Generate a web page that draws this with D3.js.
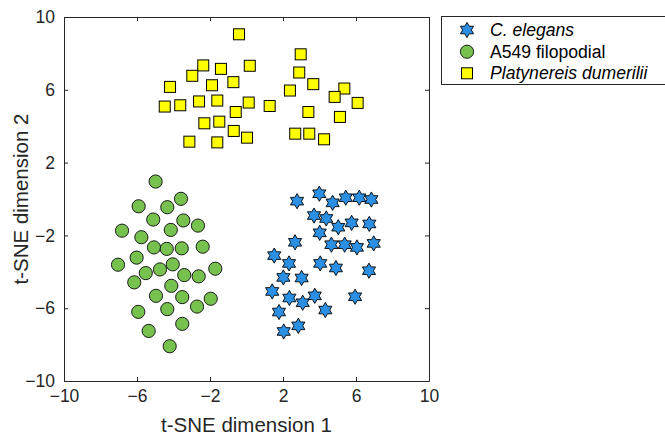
<!DOCTYPE html>
<html>
<head>
<meta charset="utf-8">
<script src="https://cdn.jsdelivr.net/npm/d3@7"></script>
<style>
  html, body { margin: 0; padding: 0; background: #fff; }
  svg { display: block; font-family: "Liberation Sans", Arial, sans-serif; }
</style>
</head>
<body>
<svg id="chart" width="665" height="435"></svg>
<script>
// ---- data ----
const seriesNames = ["C. elegans", "A549 filopodial", "Platynereis dumerilii"];
const xTicks = [-10, -6, -2, 2, 6, 10];
const yTicks = [-10, -6, -2, 2, 6, 10];

const elegansX = [2.77, 3.99, 4.72, 5.44, 6.18, 6.84, 3.70, 4.37, 5.03, 5.76, 6.73, 4.01, 2.66, 4.65, 5.38, 6.05, 6.97,
  1.52, 2.33, 4.04, 4.90, 6.71, 2.02, 3.02, 1.41, 2.35, 3.08, 3.74, 5.95, 1.78, 4.32, 2.84, 2.04];
const elegansY = [-0.12, 0.29, -0.21, 0.07, 0.07, -0.03, -0.91, -1.07, -1.55, -1.31, -1.37, -1.86, -2.38, -2.51, -2.51, -2.66, -2.44,
  -3.11, -3.54, -3.54, -3.79, -3.94, -4.31, -4.34, -5.08, -5.44, -5.70, -5.32, -5.37, -6.21, -6.10, -6.97, -7.28];

const a549X = [-4.98, -3.59, -5.91, -4.34, -5.11, -3.46, -2.66, -6.82, -4.15, -5.76, -5.07, -4.37, -3.55, -2.40, -6.02, -7.04, -4.04,
  -4.74, -5.52, -3.41, -2.62, -1.71, -6.15, -4.12, -4.96, -3.52, -1.96, -2.71, -4.34, -5.93, -3.52, -5.36, -4.21];
const a549Y = [0.96, 0.01, -0.40, -0.45, -1.13, -1.18, -1.46, -1.74, -1.70, -2.10, -2.66, -2.74, -2.71, -2.62, -3.22, -3.61, -3.59,
  -3.87, -4.07, -4.18, -4.25, -3.83, -4.58, -4.77, -5.32, -5.39, -5.48, -5.91, -6.05, -6.20, -6.86, -7.25, -8.09];

const platyX = [-0.41, 2.97, -2.37, -1.40, 0.18, -2.97, 2.89, -4.19, -1.89, -0.72, 3.66, 2.38, 5.36, 4.83, -4.48, -3.63, -2.60,
  -1.60, 0.12, 1.27, 6.09, -0.59, 3.39, 5.12, -2.31, -1.49, -0.70, 0.03, 2.67, 3.44, 4.25, -3.13, -1.60];
const platyY = [9.05, 7.95, 7.34, 7.15, 7.32, 6.77, 6.95, 6.16, 6.25, 6.42, 6.31, 5.96, 6.07, 5.61, 5.08, 5.15, 5.36,
  5.41, 5.30, 5.11, 5.28, 4.78, 4.78, 4.51, 4.16, 4.25, 3.74, 3.37, 3.59, 3.59, 3.28, 3.15, 3.11];

// ---- layout ----
const svg = d3.select("#chart");
const L = 64, T = 17, R = 429, B = 381;
const x = d3.scaleLinear().domain([-10, 10]).range([L, R]);
const y = d3.scaleLinear().domain([-10, 10]).range([B, T]);
const axisColor = "#262626";

// hexagram path
function hexagram(r) {
  const ri = r / Math.sqrt(3);
  const pts = [];
  for (let i = 0; i < 12; i++) {
    const a = -Math.PI / 2 + i * Math.PI / 6;
    const rr = i % 2 === 0 ? r : ri;
    pts.push([rr * Math.cos(a), rr * Math.sin(a)]);
  }
  return "M" + pts.map(p => p[0].toFixed(2) + "," + p[1].toFixed(2)).join("L") + "Z";
}
const starPath = hexagram(7.6);

// points
const plot = svg.append("g");

plot.selectAll("rect.platy").data(d3.range(platyX.length)).join("rect")
  .attr("class", "platy")
  .attr("x", i => x(platyX[i]) - 5.5).attr("y", i => y(platyY[i]) - 5.5)
  .attr("width", 11).attr("height", 11)
  .attr("fill", "#ffff00").attr("stroke", "#000").attr("stroke-width", 1);

plot.selectAll("circle.a549").data(d3.range(a549X.length)).join("circle")
  .attr("class", "a549")
  .attr("cx", i => x(a549X[i])).attr("cy", i => y(a549Y[i]))
  .attr("r", 6.6)
  .attr("fill", "#77c24f").attr("stroke", "#1a1a1a").attr("stroke-width", 1);

plot.selectAll("path.elegans").data(d3.range(elegansX.length)).join("path")
  .attr("class", "elegans")
  .attr("transform", i => `translate(${x(elegansX[i])},${y(elegansY[i])})`)
  .attr("d", starPath)
  .attr("fill", "#2b8fe3").attr("stroke", "#000").attr("stroke-width", 0.9);

// axes
const fontSize = 17.5;
const xAxisB = d3.axisBottom(x).tickValues(xTicks).tickSizeInner(-4).tickSizeOuter(0).tickPadding(9).tickFormat(d3.format("d"));
const xAxisT = d3.axisTop(x).tickValues(xTicks).tickSizeInner(-4).tickSizeOuter(0).tickFormat("");
const yAxisL = d3.axisLeft(y).tickValues(yTicks).tickSizeInner(-4).tickSizeOuter(0).tickPadding(9).tickFormat(d3.format("d"));
const yAxisR = d3.axisRight(y).tickValues(yTicks).tickSizeInner(-4).tickSizeOuter(0).tickFormat("");

function style(g) {
  g.select(".domain").attr("stroke", axisColor).attr("stroke-width", 1);
  g.selectAll(".tick line").attr("stroke", axisColor).attr("stroke-width", 1);
  g.selectAll(".tick text").attr("fill", axisColor).attr("font-size", fontSize)
    .attr("font-family", "Liberation Sans, Arial, sans-serif");
}
svg.append("g").attr("transform", `translate(0,${B})`).call(xAxisB).call(style);
svg.append("g").attr("transform", `translate(0,${T})`).call(xAxisT).call(style);
svg.append("g").attr("transform", `translate(${L},0)`).call(yAxisL).call(style);
svg.append("g").attr("transform", `translate(${R},0)`).call(yAxisR).call(style);

// axis labels
svg.append("text")
  .attr("x", (L + R) / 2).attr("y", 432)
  .attr("text-anchor", "middle").attr("font-size", 20.5).attr("fill", axisColor)
  .text("t-SNE dimension 1");
svg.append("text")
  .attr("transform", `translate(28,${(T + B) / 2}) rotate(-90)`)
  .attr("text-anchor", "middle").attr("font-size", 20.5).attr("fill", axisColor)
  .text("t-SNE dimension 2");

// legend
const lg = svg.append("g");
lg.append("rect").attr("x", 441.5).attr("y", 16.5).attr("width", 240).attr("height", 68)
  .attr("fill", "#fff").attr("stroke", axisColor).attr("stroke-width", 1);
const rowsY = [30, 51.7, 73.3];
const lx = 467, tx = 490;
lg.append("path").attr("transform", `translate(${lx},${rowsY[0]})`).attr("d", starPath)
  .attr("fill", "#2b8fe3").attr("stroke", "#000").attr("stroke-width", 0.9);
lg.append("circle").attr("cx", lx).attr("cy", rowsY[1]).attr("r", 6.6)
  .attr("fill", "#77c24f").attr("stroke", "#1a1a1a");
lg.append("rect").attr("x", lx - 5.5).attr("y", rowsY[2] - 5.5).attr("width", 11).attr("height", 11)
  .attr("fill", "#ffff00").attr("stroke", "#000");
const italics = [true, false, true];
seriesNames.forEach((n, i) => {
  lg.append("text").attr("x", tx).attr("y", rowsY[i]).attr("dy", "0.35em")
    .attr("font-size", 17.6).attr("fill", "#000")
    .attr("font-style", italics[i] ? "italic" : "normal")
    .text(n);
});
</script>
</body>
</html>
